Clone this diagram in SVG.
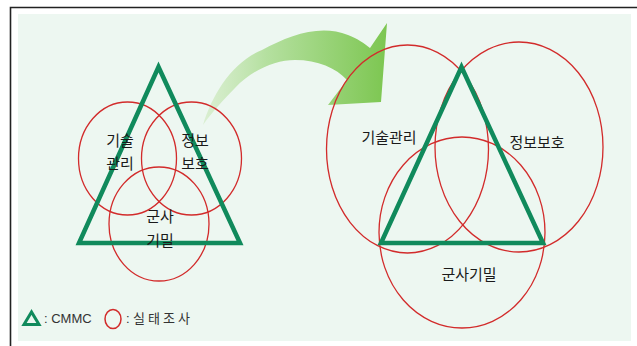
<svg xmlns="http://www.w3.org/2000/svg" width="637" height="346" viewBox="0 0 637 346">
<defs>
<style>
.frame{fill:none;stroke:#222;stroke-width:1.6}
.ring{fill:none;stroke:#d22b2b;stroke-width:1.3}
.tri{fill:none;stroke:#108a5c;stroke-width:4.5;stroke-linejoin:miter}
.lbl{font-family:"Noto Sans CJK KR","Noto Sans",sans-serif;font-size:15px;fill:#1a1a1a;text-anchor:middle}
.leg{font-family:"Liberation Sans","Noto Sans CJK KR",sans-serif;font-size:13px;fill:#333}
</style>
<linearGradient id="ag" x1="200" y1="0" x2="388" y2="0" gradientUnits="userSpaceOnUse">
<stop offset="0" stop-color="#cfeac0" stop-opacity="0.6"/>
<stop offset="0.35" stop-color="#b5e0a0"/>
<stop offset="1" stop-color="#7cc650"/>
</linearGradient>
</defs>
<rect width="637" height="346" fill="#ffffff"/>
<rect x="18" y="14" width="613" height="327" fill="#edf7f1"/>
<path class="frame" d="M10.5 346 V7.5 H637"/>

<g id="arrow">
<path d="M203 125 C212 95 232 62 262 50 C290 35 320 24 348 35 C358 39 364 43 370 48 L387 23 L381 102 L328 105 L347 80 C336 68 318 60 295 60 C275 60 252 70 235 88 C225 98 212 112 203 125 Z" fill="url(#ag)"/>
</g>

<g id="left-diagram">
<g id="c-tech"><ellipse class="ring" cx="127.5" cy="158.5" rx="49" ry="56.5"/></g>
<g id="c-info"><ellipse class="ring" cx="191.5" cy="158.5" rx="50" ry="56.5"/></g>
<g id="c-mil"><ellipse class="ring" cx="159" cy="224" rx="50" ry="57"/></g>
<g id="t-left"><polygon class="tri" points="158.5,67 79,243 240,243"/></g>
<text class="lbl" x="120" y="146">기술</text>
<text class="lbl" x="120" y="169">관리</text>
<text class="lbl" x="195" y="146">정보</text>
<text class="lbl" x="195" y="169">보호</text>
<text class="lbl" x="160" y="222">군사</text>
<text class="lbl" x="160" y="246">기밀</text>
</g>

<g id="right-diagram">
<g id="rc-tech"><ellipse class="ring" cx="407.5" cy="149" rx="81" ry="104"/></g>
<g id="rc-info"><ellipse class="ring" cx="519" cy="147" rx="84" ry="105"/></g>
<g id="rc-mil"><ellipse class="ring" cx="462" cy="232.5" rx="83" ry="95.5"/></g>
<g id="t-right"><polygon class="tri" points="461.5,67 381,243 543,243"/></g>
<text class="lbl" x="389" y="143">기술관리</text>
<text class="lbl" x="537" y="148">정보보호</text>
<text class="lbl" x="469" y="280">군사기밀</text>
</g>

<g id="legend">
<polygon points="31.5,312 24,324.5 39,324.5" fill="none" stroke="#108a5c" stroke-width="3"/>
<text class="leg" x="44" y="323">: CMMC</text>
<ellipse cx="113" cy="319" rx="8" ry="9.5" fill="none" stroke="#d22b2b" stroke-width="1.5"/>
<text class="leg" x="126" y="323">:</text>
<text class="leg" x="133" y="323" letter-spacing="3" style="font-family:'Noto Sans CJK KR',sans-serif">실태조사</text>
</g>
</svg>
